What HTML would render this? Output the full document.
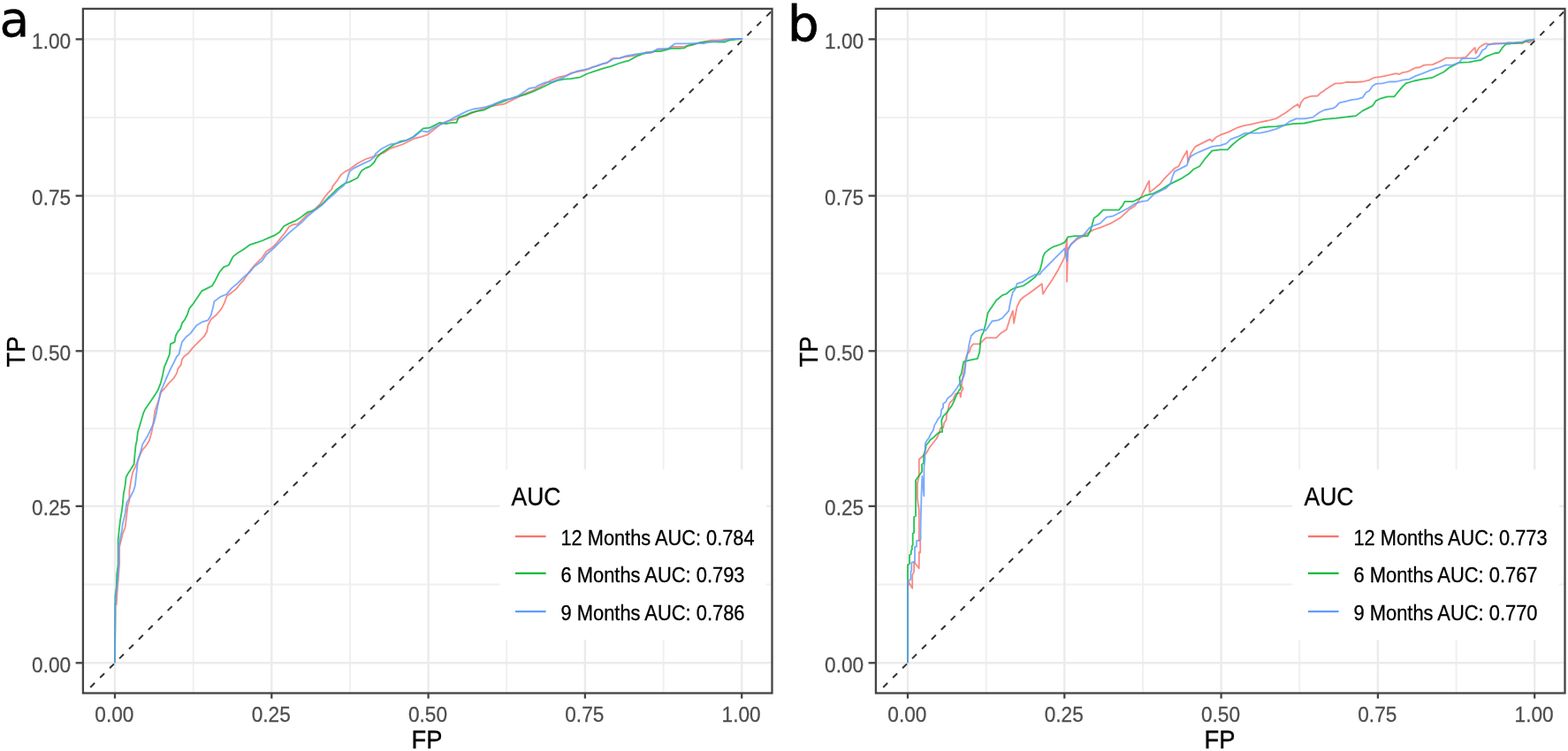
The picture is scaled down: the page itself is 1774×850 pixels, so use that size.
<!DOCTYPE html>
<html><head><meta charset="utf-8"><title>ROC curves</title>
<style>
html,body{margin:0;padding:0;background:#fff;width:1774px;height:850px;overflow:hidden}
svg{display:block;font-family:'Liberation Sans', Arial, sans-serif}
.lab{font-family:'DejaVu Sans',sans-serif;font-weight:normal}
</style></head><body>
<svg width="1774" height="850" viewBox="0 0 1774 850">
<defs><clipPath id="pc"><rect x="93.9" y="9.9" width="779.6" height="774.6"/></clipPath></defs>
<rect width="1774" height="850" fill="#FFFFFF"/>
<g transform="translate(0,0)">
<g stroke="#F0F0F0" stroke-width="2">
<line x1="218.7" y1="9.9" x2="218.7" y2="784.5"/>
<line x1="396" y1="9.9" x2="396" y2="784.5"/>
<line x1="573.2" y1="9.9" x2="573.2" y2="784.5"/>
<line x1="750.6" y1="9.9" x2="750.6" y2="784.5"/>
<line x1="93.9" y1="661.6" x2="873.5" y2="661.6"/>
<line x1="93.9" y1="485.1" x2="873.5" y2="485.1"/>
<line x1="93.9" y1="309.4" x2="873.5" y2="309.4"/>
<line x1="93.9" y1="133" x2="873.5" y2="133"/>
</g><g stroke="#EBEBEB" stroke-width="2.4">
<line x1="130" y1="9.9" x2="130" y2="784.5"/>
<line x1="307.3" y1="9.9" x2="307.3" y2="784.5"/>
<line x1="484.6" y1="9.9" x2="484.6" y2="784.5"/>
<line x1="661.9" y1="9.9" x2="661.9" y2="784.5"/>
<line x1="839.2" y1="9.9" x2="839.2" y2="784.5"/>
<line x1="93.9" y1="750.3" x2="873.5" y2="750.3"/>
<line x1="93.9" y1="572.9" x2="873.5" y2="572.9"/>
<line x1="93.9" y1="397.3" x2="873.5" y2="397.3"/>
<line x1="93.9" y1="221.6" x2="873.5" y2="221.6"/>
<line x1="93.9" y1="44.4" x2="873.5" y2="44.4"/>
</g>
<polyline fill="none" stroke="#F8766D" stroke-width="1.8" stroke-opacity="0.85" stroke-linejoin="round" points="130,750.3 130,749.9 130.4,684 131.7,684 132.8,667.1 135.1,638.8 135.1,619.3 136.9,611.8 138.8,604.2 141.6,596.7 142.6,589.2 143.5,581.6 144.5,572.2 146.4,566.6 146.4,555.3 148.2,544 150.1,534.6 152.9,528.9 156.7,519.5 160.5,510.1 165.2,504.5 168.9,498.8 171.8,488.2 174.1,474.1 175.3,464.7 178.8,455.3 182.4,443.5 185.9,440 190.6,434.1 196.5,428.2 200,422.4 201.2,417.6 204.7,412.9 205.9,407.1 208.2,403.5 212.9,400 217.6,394.1 223.5,388.2 230.6,381.2 234.1,375.3 235.3,368.2 238.8,361.2 244.7,356.5 250.6,349.4 254.1,342.4 256.5,335.3 261.2,331.8 267.1,327.1 271.8,321.2 275.3,317.6 282.4,307.1 287.1,301.2 294.1,294.1 296.5,291.8 301.2,284.7 308.2,280 312.9,275.3 317.6,269.4 322.4,263.5 327.1,256.5 331.8,254.1 336.5,253.6 341.2,249.4 348.2,242.4 355.3,237.6 362.4,230.6 367.1,223.5 371.8,217.6 375.3,214.1 376.5,210.6 381.2,204.7 385.9,197.6 390.6,194.1 395.3,191.8 404.7,184.7 414.1,180 421.2,177.6 434.1,172.9 441.2,168.2 448.2,165.9 455.3,163.5 462.4,160 469.4,156.5 476.5,154.8 483.5,152.5 490.6,147.1 497.6,141.2 504.7,137.6 514.1,135.3 521.2,132.9 528.2,130.6 535.3,127.1 542.4,124.7 549.4,122.4 556.5,120 563.5,118.8 570.6,117.6 577.6,114.1 584.7,110.6 594.1,105.9 603.5,102.4 615.3,95.7 622.9,91.1 627.5,89.1 632.1,87.3 636.7,86.5 641.3,85 645.9,82.7 653.5,81.2 661.2,79.7 665.8,78.1 670.4,75.8 676.5,74.3 682.6,72 687.2,71.2 691.8,66.7 694.8,65.9 700.9,65.9 707.1,64.4 713.2,63.6 719.3,62.5 725.4,61 731.5,59 737.7,59.5 743.8,56.4 749.9,55.9 756,55.2 760.6,52.9 768.2,52.9 774.4,52.9 779,51.4 783.5,50.6 791.2,48.3 798.8,46.8 805,45.7 811.1,45.7 817.2,45.2 820.3,44.5 826.4,44.2 839.4,44 839.2,44.4"/>
<polyline fill="none" stroke="#00BA38" stroke-width="1.8" stroke-opacity="0.85" stroke-linejoin="round" points="130,750.3 130,749.9 130.4,684 130.4,674.6 131.7,665.2 132.2,650.1 133.6,638.8 133.6,619.3 133.6,611.8 134.7,600.5 136,589.2 137.9,577.9 138.8,570.4 139.8,559.1 141.6,549.6 142.6,540.2 144.5,536.5 148.2,530.8 151.6,525.2 152.4,515.8 153.5,504.5 154.8,498.8 155.8,489.4 162.4,467.1 164.7,462.4 170.6,454.1 175.3,447.1 178.8,441.2 181.6,434.1 183.5,427.1 185.9,415.3 189.4,407.1 191.8,401.2 192.9,389.4 197.6,387.1 198.8,380 201.2,375.3 204.2,371.8 205.9,365.9 209.4,361.2 211.8,356.5 214.1,349.4 218.8,343.5 223.5,336.5 228.2,329.4 235.3,325.9 240,323.5 243.5,317.6 248.2,308.2 252.9,302.4 258.8,300 263.5,290.6 269.4,285.9 275.3,282.4 282.4,277.2 289.4,274.8 296.5,272.5 303.5,269.4 310.6,266.4 316.5,262.4 321.2,256 327.1,252.9 334.1,249.9 338.8,247.1 343.5,243.5 348.2,240 352.9,238.8 357.6,236.5 364.7,230.6 371.8,223.5 376.5,218.8 381.2,214.1 385.9,210.6 390.6,207.5 395.3,205.9 404.7,201.2 407.1,196.5 409.4,192.9 414.1,190.1 418.8,188.2 423.5,183.5 425.9,178.8 431.8,172.9 438.8,168.2 445.9,163.5 452.9,160 460,158.8 467.1,155.3 474.1,149.4 478.8,145.4 485.9,144.7 490.6,142.4 497.6,138.8 504.7,140 511.8,138.8 516.5,138.8 518.8,132.9 525.9,130.6 532.9,127.5 540,125.9 547.1,124.7 554.1,121.2 561.2,117.6 568.2,115.3 575.3,112.5 584.7,109.4 594.1,107.1 603.5,103.5 615.3,98 622.9,94.2 630.6,91.1 638.2,89.6 645.9,89.1 656.6,87.3 664.2,83.5 673.4,80.4 682.6,77.4 691.8,74.8 699.4,72 707.1,69.7 711.7,68.6 716.2,65.9 722.4,62.8 728.5,60.5 734.6,59.5 740.7,58.2 746.8,58.2 753,56.7 759.1,54.9 768.2,54.9 774.4,54.4 777.4,52.1 783.5,50.6 791.2,48.3 798.8,47.5 806.5,47.2 814.1,47.5 820.3,47.5 824.8,45.7 832.5,44.5 839.4,44 839.2,44.4"/>
<polyline fill="none" stroke="#619CFF" stroke-width="1.8" stroke-opacity="0.85" stroke-linejoin="round" points="130,750.3 130,749.9 130.4,684 131.7,667.1 133.2,657.6 134.1,638.8 134.1,619.3 136,609.9 137.9,600.5 138.8,592.9 141.6,581.6 142.6,574.1 143.5,568.5 147.3,562.8 151.1,555.3 152.9,549.6 153.9,540.2 154.8,532.7 155.8,521.4 159.5,510.1 161.4,502.6 167.1,493.2 170.6,485.9 174.1,478.8 176.5,469.4 178.8,457.6 181.6,443.5 184.7,436.5 188.2,428.2 192.9,417.6 196.5,410.6 200,403.5 202.4,401.2 203.5,396.5 205.9,387.1 210.6,381.2 215.3,377.6 218.8,372.9 222.4,368.2 228.2,364.7 235.3,362.4 238.8,356.5 241.2,347.1 242.4,341.2 247.1,337.6 250.6,335.3 256.5,332.9 262.4,325.9 268.2,321.2 272.9,316.5 276.5,312.9 282.4,308.2 287.1,302.4 296.5,295.3 301.2,288.2 310.6,280 317.6,272.9 327.1,263.5 334.1,257.6 341.2,251.8 348.2,244.7 355.3,238.8 360,235.3 364.7,231.8 371.8,224.7 378.8,218.8 383.5,214.1 388.2,210.6 391.8,205.9 392.9,202.4 395.3,194.1 400,190.6 409.4,185.9 418.8,181.6 423.5,177.6 424.7,174.1 431.8,168.2 441.2,163.5 448.2,162.4 455.3,160.5 462.4,157.6 469.4,154.1 476.5,148.2 483.5,149.4 490.6,144.7 497.6,141.2 504.7,138.4 514.1,132.9 521.2,129.4 528.2,125.9 535.3,123.5 542.4,122.4 549.4,121.2 556.5,118.8 563.5,115.8 570.6,112.9 577.6,111.8 584.7,109.4 591.8,104.7 598.8,100 605.9,98.8 609.2,96.5 616.8,93.4 624.5,92.7 630.6,90.4 638.2,87.3 645.9,83.5 653.5,80.4 661.2,78.9 667.3,77.4 673.4,75.1 679.5,72.8 685.7,71.2 690.2,68.9 694.8,66.3 700.9,65.9 707.1,63.6 713.2,62.5 719.3,61.3 725.4,60.5 731.5,60.1 737.7,59 743.8,55.5 749.9,55.2 756,54.9 762.1,50.6 763.7,49.4 768.2,49.4 775.9,49.4 783.5,49.1 791.2,48.8 795.8,49.4 798.8,48.3 806.5,47.2 817.2,46.3 821.8,45.2 826.4,44 839.4,44 839.2,44.4"/>
<line x1="94.54" y1="785.6" x2="874.66" y2="11.05" stroke="#333333" stroke-width="2" stroke-dasharray="6.9 8.5" stroke-dashoffset="4.52" clip-path="url(#pc)"/>
<rect x="565.3" y="531.5" width="301.8" height="192.6" fill="#FFFFFF"/>
<text transform="translate(578.5,572) scale(0.9,1)" font-size="29.5" fill="#000" stroke="#000" stroke-width="0.3">AUC</text>
<line x1="583" y1="607.1" x2="617.6" y2="607.1" stroke="#F8766D" stroke-width="2.3"/>
<text x="634.5" y="617.1" font-size="23.5" fill="#000" stroke="#000" stroke-width="0.3" textLength="219" lengthAdjust="spacingAndGlyphs">12 Months AUC: 0.784</text>
<line x1="583" y1="648.8" x2="617.6" y2="648.8" stroke="#00BA38" stroke-width="2.3"/>
<text x="634.5" y="658.7" font-size="23.5" fill="#000" stroke="#000" stroke-width="0.3" textLength="208" lengthAdjust="spacingAndGlyphs">6 Months AUC: 0.793</text>
<line x1="583" y1="692.1" x2="617.6" y2="692.1" stroke="#619CFF" stroke-width="2.3"/>
<text x="634.5" y="702.0" font-size="23.5" fill="#000" stroke="#000" stroke-width="0.3" textLength="208" lengthAdjust="spacingAndGlyphs">9 Months AUC: 0.786</text>
<rect x="93.9" y="9.9" width="779.6" height="774.6" fill="none" stroke="#444444" stroke-width="2.3"/>
<g stroke="#444444" stroke-width="2.3">
<line x1="85.6" y1="750.3" x2="93.9" y2="750.3"/>
<line x1="85.6" y1="572.9" x2="93.9" y2="572.9"/>
<line x1="85.6" y1="397.3" x2="93.9" y2="397.3"/>
<line x1="85.6" y1="221.6" x2="93.9" y2="221.6"/>
<line x1="85.6" y1="44.4" x2="93.9" y2="44.4"/>
<line x1="130" y1="784.5" x2="130" y2="790.6"/>
<line x1="307.3" y1="784.5" x2="307.3" y2="790.6"/>
<line x1="484.6" y1="784.5" x2="484.6" y2="790.6"/>
<line x1="661.9" y1="784.5" x2="661.9" y2="790.6"/>
<line x1="839.2" y1="784.5" x2="839.2" y2="790.6"/>
</g>
<g font-size="23.6" fill="#4D4D4D" stroke="#4D4D4D" stroke-width="0.25">
<text transform="translate(80.2,760.5) scale(0.96,1)" text-anchor="end">0.00</text>
<text transform="translate(80.2,583.1) scale(0.96,1)" text-anchor="end">0.25</text>
<text transform="translate(80.2,407.5) scale(0.96,1)" text-anchor="end">0.50</text>
<text transform="translate(80.2,231.8) scale(0.96,1)" text-anchor="end">0.75</text>
<text transform="translate(80.2,54.5) scale(0.96,1)" text-anchor="end">1.00</text>
<text transform="translate(129.4,816.6) scale(0.96,1)" text-anchor="middle">0.00</text>
<text transform="translate(306.7,816.6) scale(0.96,1)" text-anchor="middle">0.25</text>
<text transform="translate(484,816.6) scale(0.96,1)" text-anchor="middle">0.50</text>
<text transform="translate(661.3,816.6) scale(0.96,1)" text-anchor="middle">0.75</text>
<text transform="translate(838.6,816.6) scale(0.96,1)" text-anchor="middle">1.00</text>
</g>
<text transform="translate(483,847.1) scale(0.95,1)" font-size="28.8" text-anchor="middle" fill="#000" stroke="#000" stroke-width="0.35">FP</text>
<text transform="translate(27.8,398) rotate(-90) scale(0.95,1)" x="0" y="0" font-size="28.8" text-anchor="middle" fill="#000" stroke="#000" stroke-width="0.35">TP</text>
</g>
<g transform="translate(897,0)">
<g stroke="#F0F0F0" stroke-width="2">
<line x1="218.7" y1="9.9" x2="218.7" y2="784.5"/>
<line x1="396" y1="9.9" x2="396" y2="784.5"/>
<line x1="573.2" y1="9.9" x2="573.2" y2="784.5"/>
<line x1="750.6" y1="9.9" x2="750.6" y2="784.5"/>
<line x1="93.9" y1="661.6" x2="873.5" y2="661.6"/>
<line x1="93.9" y1="485.1" x2="873.5" y2="485.1"/>
<line x1="93.9" y1="309.4" x2="873.5" y2="309.4"/>
<line x1="93.9" y1="133" x2="873.5" y2="133"/>
</g><g stroke="#EBEBEB" stroke-width="2.4">
<line x1="130" y1="9.9" x2="130" y2="784.5"/>
<line x1="307.3" y1="9.9" x2="307.3" y2="784.5"/>
<line x1="484.6" y1="9.9" x2="484.6" y2="784.5"/>
<line x1="661.9" y1="9.9" x2="661.9" y2="784.5"/>
<line x1="839.2" y1="9.9" x2="839.2" y2="784.5"/>
<line x1="93.9" y1="750.3" x2="873.5" y2="750.3"/>
<line x1="93.9" y1="572.9" x2="873.5" y2="572.9"/>
<line x1="93.9" y1="397.3" x2="873.5" y2="397.3"/>
<line x1="93.9" y1="221.6" x2="873.5" y2="221.6"/>
<line x1="93.9" y1="44.4" x2="873.5" y2="44.4"/>
</g>
<polyline fill="none" stroke="#F8766D" stroke-width="1.8" stroke-opacity="0.85" stroke-linejoin="round" points="130,750.3 130,750.3 130,662 131,662 131,658.4 135.2,665.9 135.2,650.8 137.1,647 137.1,635.8 142.8,643.3 142.8,625 144.2,625.4 144.2,612.2 142.8,612.2 142.8,577.4 140.9,564.2 140.9,547.3 142.8,538.8 142.8,520 151.2,512.5 155,505.9 158.8,501.2 162.5,496.5 164.4,492.7 166.3,487.1 167.2,484.2 170.1,484.2 171,479.5 171.9,477.6 173.8,474.8 173.8,470.1 175.7,463.5 176.6,458.8 177.6,456 181.4,452.2 184.2,445.6 188.9,444.7 189.8,449.4 190.8,442.8 192.6,440 190.9,436.5 192.1,427.1 194.5,415.3 195.6,405.9 198,398.8 199.5,398.8 201.8,391.8 204.2,389.4 211.2,389.4 218.3,382.4 230.1,382.4 234.8,377.6 241.8,372.9 245.4,361.2 248.9,351.8 250.1,365.9 253.6,347.1 257.1,340 260.6,336.5 267.7,331.8 277.1,324.7 281.8,321.2 283,332.9 286.5,327.1 293.6,316.5 300.6,304.7 307.7,290.6 310.1,270.6 310.1,318.8 311.2,281.2 314.8,276.5 321.8,270.6 328.9,267.1 335.9,262.4 340.6,260 347.7,257.6 359.5,252.9 371.2,245.9 380.1,237.6 387.1,232.9 394.2,222.4 401.2,208.2 403.1,204.7 403.6,217.6 408.3,214.1 415.4,208.2 420.1,202.4 427.1,195.3 431.8,190.6 436.5,188.2 441.2,178.8 445.9,170.6 447.1,183.5 450.6,172.9 455.4,165.9 462.4,162.4 471.8,157.6 474.2,160 478.9,155.3 485.9,151.8 493,149.4 502.4,144.7 509.5,142.4 518.9,140.7 528.3,138.4 537.7,136.5 547.1,134.1 558.1,127.3 565.6,121.6 571.2,117.9 573.1,121.6 575,116 578.8,111.3 586.3,108.8 593.8,108.5 597.6,104.7 599.5,103.8 603.2,100.9 608.9,97.2 613.6,94.4 620.2,94.4 625.8,93 635.2,93 644.6,92.5 652.2,90.6 657.8,87.8 665.4,86.8 674.8,84.9 682.3,83.1 686.1,84 689.8,82.1 695.5,81.2 701.1,78.4 704.9,76.5 708.6,76.5 714.3,73.6 723.7,73.1 731.2,69.9 738.8,65.7 746.3,65.7 755.7,65.7 761.4,64.8 767,58.6 771.7,53.9 772.6,60.5 776.4,53.9 780.2,51.1 783.9,49.2 787.7,50.1 793.4,49.2 802.8,49.2 810.3,48.2 815.9,49.2 825.4,49.2 829.1,46.4 832.9,48.2 838.5,44.5 839.2,44.4"/>
<polyline fill="none" stroke="#00BA38" stroke-width="1.8" stroke-opacity="0.85" stroke-linejoin="round" points="130,750.3 130,750.3 130,639.5 132,638 132,628.2 133.8,627 133.8,623.5 134.8,622 134.8,617.9 135.7,617 135.7,603.8 137.1,603 137.1,585 139,584 139,543.5 146,534 146,525.6 148,524 148,515.3 150.3,507.8 150.8,504 153.1,501.2 155.9,497.4 158.8,495.5 160.6,493.6 163.5,490.8 167.2,488.9 169.1,488.9 168.2,475.8 170.1,471.1 173.8,467.3 176.6,463.5 179.5,459.8 182.3,454.1 184.2,449.4 186.1,445.6 187.9,441.9 189.8,440 188.6,427.1 190.9,422.4 192.1,415.3 193.3,409.4 198,408.2 202.7,407.1 208.9,405.9 211.2,398.8 212.4,384.7 213.6,380 215.9,375.3 218.3,365.9 220.6,354.1 225.4,347.1 230.1,340 237.1,334.1 241.8,332.5 246.5,328.2 251.2,325.9 260.6,323.5 267.7,318.8 274.8,312.9 279.5,305.9 281.8,297.6 283,290.6 285.4,285.9 291.2,281.2 295.9,278.8 303,276.5 307.7,274.1 311.2,268.2 319.5,267.1 326.5,267.1 333.6,267.1 337.1,260 340.6,247.1 345.4,243.5 351.2,237.6 359.5,237.6 368.9,237.6 373,232.9 375.4,228.2 384.8,228.2 391.8,224.7 398.9,221.2 408.3,218.8 417.7,214.1 424.8,209.4 431.8,205.9 438.9,202.4 448.3,196.5 453,191.8 460.1,188.2 467.1,178.8 474.2,170.6 483.6,169.4 491.8,169.4 497.7,163.5 504.8,157.6 514.2,151.8 521.2,148.2 528.3,144.7 537.7,143.5 547.1,143.1 556.5,141.6 565.6,140.1 578.8,139.5 591.9,136.7 601.4,134.8 614.5,133.9 625.8,132.4 637.1,131.1 644.6,125.4 652.2,121.6 655.9,119.8 659.7,114.1 665.4,111.3 672.9,109.4 680.4,109.4 684.2,104.7 689.8,98.1 693.6,94.4 703,91.5 712.4,89.6 723.7,87.8 731.2,84 736.9,81.2 742.5,76.5 746.3,74.6 753.8,70.8 765.1,70.4 772.6,68.9 778.3,68 783.9,64.2 793.4,60.5 799,59.5 802.8,53.9 806.5,50.1 814.1,49.2 825.4,48.2 831,46.4 838.5,44.5 839.2,44.4"/>
<polyline fill="none" stroke="#619CFF" stroke-width="1.8" stroke-opacity="0.85" stroke-linejoin="round" points="130,750.3 130,750.3 130,657.4 133.4,656 133.4,647 134.3,646 134.3,636.7 138,635.8 138,618.8 140,618.8 140,612.2 144.6,611 144.6,595 145.5,560 146.3,539 148.4,561.4 148.4,529.4 149.4,520 149.8,502.1 151.2,499.3 154,495.5 156,491.3 158.8,487.1 160.2,481.4 162.5,477.6 164.4,473.9 167.2,471.1 168.2,463.5 170.1,461.6 170.1,456.9 172.9,455.1 174.8,451.3 176.6,449.4 179.5,447.5 182.3,443.8 185.1,440 188.6,434.1 192.1,429.4 194.5,422.4 195.6,410.6 198,398.8 199.5,389.4 201.8,380 206.5,375.3 213.6,372.9 218.3,374.1 225.4,363.5 232.4,362.4 237.1,360 244.2,351.8 246.5,340 248.9,330.6 251.2,328.2 253.6,321.2 260.6,318.8 267.7,314.1 274.8,310.6 279.5,310.6 281.8,307.1 288.9,300 295.9,292.9 303,285.9 307.7,281.2 310.1,295.3 311.2,283.5 314.8,276.5 321.8,269.4 328.9,265.9 335.9,257.6 340.6,255.3 347.7,252.9 354.8,245.9 361.8,244.7 371.2,240 380.1,235.3 387.1,230.6 394.2,228.2 401.2,227.1 408.3,220 415.4,216.5 422.4,212.9 427.1,208.2 429.5,200 431.8,194.1 438.9,190.6 445.9,187.1 448.3,178.8 453,175.3 460.1,171.8 467.1,168.9 474.2,165.9 483.6,164.7 490.6,162.4 495.4,157.6 504.8,154.1 511.8,150.6 521.2,150.6 528.3,150.6 537.7,148.7 547.1,145.9 556.5,141.6 561.8,137.6 569.4,134.3 578.8,134.4 588.2,132.9 595.7,127.3 601.4,124.5 610.8,122.6 614.5,120.7 618.3,116.4 623.9,115.1 631.5,113.2 639,112.2 644.6,110.4 648.4,104.7 652.2,102.8 655.9,97.2 659.7,94.9 667.2,94.4 674.8,92.5 682.3,92.5 689.8,90.6 697.4,89.6 704.9,85.9 712.4,83.1 719.9,80.2 727.5,77.4 731.2,76.5 738.8,73.6 746.3,73.6 753.8,70.8 757.6,66.1 765.1,66.1 772.6,66.1 776.4,63.3 780.2,56.7 783.9,54.8 785.8,51.1 789.6,50.1 797.1,49.7 806.5,49.2 815.9,48.2 825.4,47.3 831,45.4 838.5,44.5 839.2,44.4"/>
<line x1="94.54" y1="785.6" x2="874.66" y2="11.05" stroke="#333333" stroke-width="2" stroke-dasharray="6.9 8.5" stroke-dashoffset="4.52" clip-path="url(#pc)"/>
<rect x="565.3" y="531.5" width="301.8" height="192.6" fill="#FFFFFF"/>
<text transform="translate(578.5,572) scale(0.9,1)" font-size="29.5" fill="#000" stroke="#000" stroke-width="0.3">AUC</text>
<line x1="583" y1="607.1" x2="617.6" y2="607.1" stroke="#F8766D" stroke-width="2.3"/>
<text x="634.5" y="617.1" font-size="23.5" fill="#000" stroke="#000" stroke-width="0.3" textLength="219" lengthAdjust="spacingAndGlyphs">12 Months AUC: 0.773</text>
<line x1="583" y1="648.8" x2="617.6" y2="648.8" stroke="#00BA38" stroke-width="2.3"/>
<text x="634.5" y="658.7" font-size="23.5" fill="#000" stroke="#000" stroke-width="0.3" textLength="208" lengthAdjust="spacingAndGlyphs">6 Months AUC: 0.767</text>
<line x1="583" y1="692.1" x2="617.6" y2="692.1" stroke="#619CFF" stroke-width="2.3"/>
<text x="634.5" y="702.0" font-size="23.5" fill="#000" stroke="#000" stroke-width="0.3" textLength="208" lengthAdjust="spacingAndGlyphs">9 Months AUC: 0.770</text>
<rect x="93.9" y="9.9" width="779.6" height="774.6" fill="none" stroke="#444444" stroke-width="2.3"/>
<g stroke="#444444" stroke-width="2.3">
<line x1="85.6" y1="750.3" x2="93.9" y2="750.3"/>
<line x1="85.6" y1="572.9" x2="93.9" y2="572.9"/>
<line x1="85.6" y1="397.3" x2="93.9" y2="397.3"/>
<line x1="85.6" y1="221.6" x2="93.9" y2="221.6"/>
<line x1="85.6" y1="44.4" x2="93.9" y2="44.4"/>
<line x1="130" y1="784.5" x2="130" y2="790.6"/>
<line x1="307.3" y1="784.5" x2="307.3" y2="790.6"/>
<line x1="484.6" y1="784.5" x2="484.6" y2="790.6"/>
<line x1="661.9" y1="784.5" x2="661.9" y2="790.6"/>
<line x1="839.2" y1="784.5" x2="839.2" y2="790.6"/>
</g>
<g font-size="23.6" fill="#4D4D4D" stroke="#4D4D4D" stroke-width="0.25">
<text transform="translate(80.2,760.5) scale(0.96,1)" text-anchor="end">0.00</text>
<text transform="translate(80.2,583.1) scale(0.96,1)" text-anchor="end">0.25</text>
<text transform="translate(80.2,407.5) scale(0.96,1)" text-anchor="end">0.50</text>
<text transform="translate(80.2,231.8) scale(0.96,1)" text-anchor="end">0.75</text>
<text transform="translate(80.2,54.5) scale(0.96,1)" text-anchor="end">1.00</text>
<text transform="translate(129.4,816.6) scale(0.96,1)" text-anchor="middle">0.00</text>
<text transform="translate(306.7,816.6) scale(0.96,1)" text-anchor="middle">0.25</text>
<text transform="translate(484,816.6) scale(0.96,1)" text-anchor="middle">0.50</text>
<text transform="translate(661.3,816.6) scale(0.96,1)" text-anchor="middle">0.75</text>
<text transform="translate(838.6,816.6) scale(0.96,1)" text-anchor="middle">1.00</text>
</g>
<text transform="translate(483,847.1) scale(0.95,1)" font-size="28.8" text-anchor="middle" fill="#000" stroke="#000" stroke-width="0.35">FP</text>
<text transform="translate(27.8,398) rotate(-90) scale(0.95,1)" x="0" y="0" font-size="28.8" text-anchor="middle" fill="#000" stroke="#000" stroke-width="0.35">TP</text>
</g>
<text class="lab" x="-0.6" y="40.8" font-size="55" fill="#000" stroke="#000" stroke-width="0.4">a</text>
<text class="lab" x="891" y="45.5" font-size="56" fill="#000" stroke="#000" stroke-width="0.8">b</text>
</svg>
</body></html>
